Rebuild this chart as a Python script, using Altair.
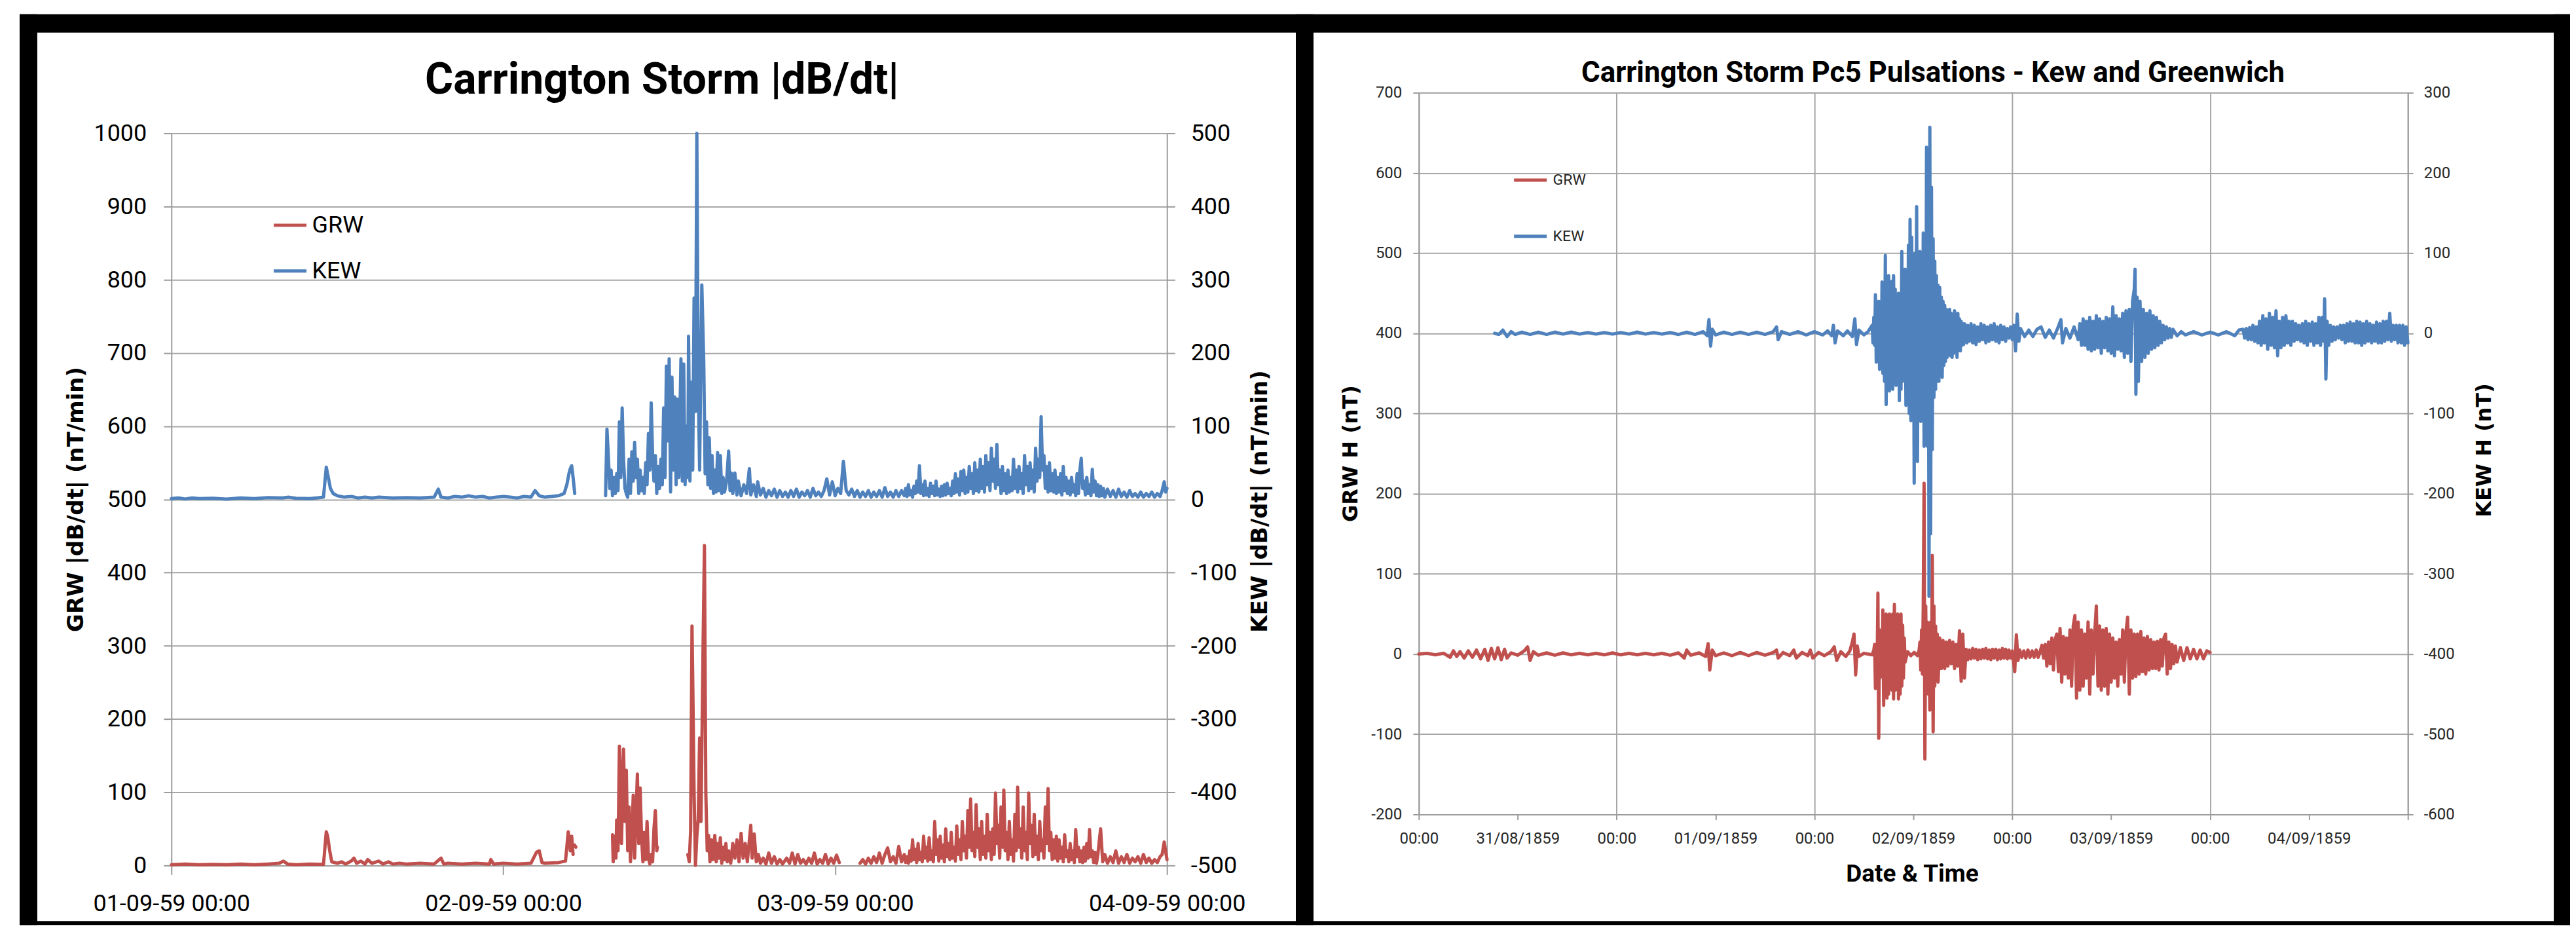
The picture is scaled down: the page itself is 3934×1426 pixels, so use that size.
import altair as alt
import pandas as pd

RED = "#C0504D"
BLUE = "#4F81BD"
GRID = "#A6A6A6"
AXISC = "#9C9C9C"
SANS = "Roboto, Liberation Sans, Arial, sans-serif"
WIDEB = "DejaVu Sans, Verdana, sans-serif"
SERIES = ["GRW", "KEW"]


def run(t0, dt, values):
    """Regularly sampled readings: values typed from the picture, one per sample time."""
    return [(round(t0 + i * dt, 3), v) for i, v in enumerate(values)]


# ---------------- Left panel: |dB/dt| (hours after 01-09-59 00:00) ----------------
L_TICKS = [0, 24, 48, 72]
L_TICK_LABELS = ["01-09-59 00:00", "02-09-59 00:00", "03-09-59 00:00", "04-09-59 00:00"]
L_GRW_TICKS = [0, 100, 200, 300, 400, 500, 600, 700, 800, 900, 1000]
L_KEW_TICKS = [-500, -400, -300, -200, -100, 0, 100, 200, 300, 400, 500]

GRW_L_DAY1 = [(0,1),(1,2),(2,1),(3,1.5),(4,1),(5,2),(6,1),(7,2),(7.8,3),(8.1,6),(8.4,2),(9,1),(10,2),(11,1.5),
    (11.2,46),(11.3,40),(11.45,20),(11.6,5),(12,3),(12.3,5),(12.6,2),(13.0,6),(13.2,10),(13.4,3),(13.7,6),(14,2),
    (14.2,8),(14.5,3),(15,6),(15.3,2),(15.7,5),(16,2),(16.5,3),(17,2),(18,3),(19,2),(19.5,10),(19.7,2),(20,3),
    (21,2),(22,3),(23,2),(23.1,8),(23.3,2),(24,3),(25,2),(26,3),(26.4,18),(26.6,20),(26.8,4),(27,3),(28,4),
    (28.5,6),(28.7,46),(28.85,20),(28.95,40),(29.05,15)]
GRW_L_DOT = [(29.15,28),(29.25,25)]
GRW_L_BURST1 = [(31.9,42),(31.95,5),(32.05,40),(32.15,10),(32.2,62),(32.3,20),(32.4,163),(32.5,113),(32.55,30),
    (32.7,159),(32.8,60),(32.9,130),(33.0,20),(33.1,80),(33.2,5),(33.3,40),(33.4,96),(33.5,10),(33.7,125),(33.8,30),
    (33.9,106),(34.0,40),(34.1,5),(34.2,45),(34.3,8),(34.4,60),(34.5,10),(34.6,2),(34.7,15),(34.8,5),(34.9,50),
    (35.0,75),(35.1,20),(35.15,25)]
GRW_L_BURST2 = [(37.35,15),(37.45,5),(37.55,47),(37.65,327),(37.7,259),(37.8,102),(37.9,0),(38.0,40),(38.1,63),
    (38.2,174),(38.3,60),(38.45,300),(38.55,437),(38.65,99),(38.75,20),(38.85,41),(38.95,5),(39.05,35),(39.15,8),
    (39.3,41),(39.4,5),(39.5,30),(39.6,10),(39.7,38),(39.8,3),(39.9,25),(40.0,8),(40.1,30),(40.2,5),(40.3,20),
    (40.45,3),(40.6,30),(40.75,10),(40.9,35),(41.05,5),(41.2,44),(41.35,10),(41.5,30),(41.65,5),(41.8,35),(41.9,55),
    (42.0,10),(42.15,43),(42.3,5),(42.45,15),(42.6,3),(42.8,10),(43.0,2),(43.2,17),(43.4,3),(43.6,12),(43.8,2),
    (44.0,8),(44.2,2),(44.5,10),(44.7,3),(44.9,17),(45.1,2),(45.3,15),(45.5,3),(45.7,8),(45.9,2),(46.1,10),(46.3,3),
    (46.5,17),(46.7,2),(46.9,8),(47.1,3),(47.3,15),(47.5,2),(47.7,10),(47.9,3),(48.1,14),(48.3,4)]
GRW_L_DAY3_A = [3,8,2,10,3,12,4,17,3,15,24,5,12,3,26,5]                      # 49.8 .. 52.8 every 0.2 h
GRW_L_DAY3_B = [15,4,12,3,20,6,35,8,22,4,30,8,18,5,40,10,25,6,38,8,20,5,60,15,35,6,40,10,28,5,
    50,12,30,8,45,10,25,6,54,15,35,8,60,20,40,10,75,25,91,20,45,12,83,25,50,8,60,15,40,10,
    70,20,45,8,50,15,99,30,55,10,80,25,103,20,45,8,60,15,35,6,70,20,107,25,50,10,80,20,45,8,
    99,30,55,12,70,15,40,8,60,20,35,10,80,30,105,20,45,8,35,10,40,6,35,10,25,5,42,12,20,5,
    30,8,20,4,49,12,25,5,20,4,25,6,30,10,49,12,20,4,18,3,15]                  # 53.0 .. 67.0 every 0.1 h
GRW_L_DAY3_C = [(67.2,50),(67.35,5)]
GRW_L_DAY3_D = [15,3,12,4,20,3,12,4,15,3,10,5,12,3,15,4,10,3,8,4,12]           # 67.5 .. 71.5 every 0.2 h
GRW_L_DAY3_E = [(71.65,15),(71.8,32),(71.9,20),(72.0,8)]

KEW_L_DAY1 = [(0,1),(0.5,2),(1,0.5),(1.5,2),(2,1),(3,1.5),(4,0.5),(5,2),(6,1),(7,2.5),(8,2),(8.5,3),(9,1.5),(10,1),
    (10.5,2),(11,3),(11.2,44),(11.35,30),(11.5,15),(11.7,8),(12,5),(12.5,3),(13,4),(13.5,2),(14,3),(14.5,2),(15,3),
    (16,2),(17,2.5),(18,2),(19,3),(19.3,14),(19.5,3),(20,2),(20.5,4),(21,3),(21.5,5),(22,3),(22.5,4),(23,2),(23.5,3),
    (24,4),(24.5,3),(25,2),(25.5,4),(26,3),(26.3,12),(26.6,5),(27,3),(27.5,4),(28,5),(28.4,8),(28.6,20),(28.75,35),
    (28.85,42),(28.95,46),(29.05,30),(29.17,8)]
KEW_L_STORM = [(31.4,5),(31.5,96),(31.6,60),(31.7,15),(31.8,40),(31.9,5),(32.0,30),(32.1,8),(32.2,35),(32.3,12),
    (32.4,106),(32.5,30),(32.6,125),(32.7,55),(32.8,15),(32.9,8),(33.0,3),(33.1,55),(33.2,8),(33.3,65),(33.4,25),
    (33.5,78),(33.6,30),(33.7,55),(33.8,8),(33.9,40),(34.0,12),(34.1,30),(34.2,8),(34.3,50),(34.4,20),(34.5,90),
    (34.6,40),(34.7,132),(34.8,60),(34.9,25),(35.0,60),(35.1,8),(35.2,45),(35.3,15),(35.4,55),(35.5,20),(35.6,125),
    (35.7,30),(35.8,182),(35.9,80),(36.0,192),(36.1,10),(36.2,167),(36.3,40),(36.4,140),(36.5,20),(36.6,137),
    (36.7,30),(36.85,192),(36.95,25),(37.05,185),(37.15,20),(37.25,100),(37.35,30),(37.4,223),(37.5,25),(37.6,160),
    (37.7,40),(37.8,275),(37.9,120),(38.0,500),(38.1,160),(38.2,40),(38.36,293),(38.5,188),(38.6,35),(38.7,106),
    (38.8,20),(38.9,84),(39.0,15),(39.1,60),(39.2,8),(39.3,40),(39.4,10),(39.5,64),(39.6,12),(39.7,60),(39.8,8),
    (39.9,30),(40.0,10),(40.15,25),(40.3,66),(40.4,12),(40.5,36),(40.6,8),(40.75,36),(40.9,6),(41.0,25),(41.2,5),
    (41.4,20),(41.6,8),(41.8,42),(41.9,6),(42.1,20),(42.3,4)]
KEW_L_LATE_A = [24,6,15,3,12,5,14,3,12,4,10,3,12,4,14,3,10,5,12,3,15,5,10,4,12,28,6,24,5,15,8,52,12,6,14,4,
    12,3,10,4,12,3,10,4,12,3,16,4,10,3,12,4,12,5]                             # 42.4 .. 53.0 every 0.2 h
KEW_L_LATE_B = [15,4,20,6,12,3,18,8,25,10,46,8,20,5,25,6,15,4,22,8,18,5,25,6,14,4,18,5,20,6,22,8,15,5,
    25,8,35,10,28,6,38,12,40,8,30,10,45,15,35,8,50,12,40,10,55,15,45,10,60,20,50,12,70,25,55,15,
    75,20,40,8,45,12,35,8,40,10,30,12,55,15,40,10,45,15,35,8,60,20,45,12,50,15,40,10,70,25,55,30,
    113,40,60,15,45,10,50,12,35,10,40,8,30,10,35,6,45,12,30,8,25,6,30,10,20,5,35,8,40,56,15,25,
    6,30,8,20,5,41,10,25,5,20,4,18,5,15,3]                                    # 53.1 .. 67.5 every 0.1 h
KEW_L_LATE_C = [14,4,12,3,14,4,10,3,12,4,8,3,10,3,8,4,10,3,8,4]                # 67.7 .. 71.5 every 0.2 h
KEW_L_LATE_D = [(71.65,12),(71.8,24),(71.9,10),(72.0,15)]

# ---------------- Right panel: Pc5 pulsations (hours on the date axis) ----------------
R_TICKS = [0, 12, 24, 36, 48, 60, 72, 84, 96, 108, 120]
R_TICK_LABELS = ["00:00", "31/08/1859", "00:00", "01/09/1859", "00:00", "02/09/1859",
                 "00:00", "03/09/1859", "00:00", "04/09/1859", ""]
R_GRW_TICKS = [-200, -100, 0, 100, 200, 300, 400, 500, 600, 700]
R_KEW_TICKS = [-600, -500, -400, -300, -200, -100, 0, 100, 200, 300]

GRW_R_EARLY = [(0,0),(1,1),(2,-1),(3,1),(3.8,-4),(4.2,4),(4.6,-3),(5,3),(5.5,-5),(6,4),(6.5,-4),(7,5),(7.5,-6),(8,6),
    (8.4,-8),(8.8,7),(9.2,-6),(9.6,8),(10,-7),(10.4,6),(10.7,-5),(11.2,1.5),(12,-1.5),(12.8,4),(13.2,9),(13.5,-8),
    (13.9,3),(14.5,-1.5),(15.5,1.5),(16.5,-1.5),(17.5,1.5),(18.5,-1),(19.5,1),(20.5,-1),(21.5,1),(22.5,-1),(23.5,1.5),
    (24.5,-1),(25.5,1),(26.5,-1),(27.5,1),(28.5,-1),(29.5,1),(30.5,-1.5),(31.5,1.5),(32.2,-5),(32.5,5),(33,-1.5),
    (34,1.5),(34.8,-3),(35.1,13),(35.3,-20),(35.6,5),(36,-2),(37,1.5),(38,-2),(39,2),(40,-2),(41,2),(42,-1.5),(43,2),
    (43.4,5),(43.6,-5),(44.2,2),(45,-2),(45.5,5),(45.8,-5),(46.5,2),(47.2,-2),(47.5,5),(47.8,-5),(48.5,2),(49.2,-2),
    (50,3),(50.4,9),(50.7,-8),(51.2,3),(51.8,-3),(52.3,4),(52.6,15),(52.8,25),(53.0,-26),(53.2,10),(53.4,-3),(54,1),
    (55.0,-1)]
GRW_R_STORM_A = [5,12,-43,10,-20,76,-105,30,-29,25,-25,55,-64,45,-50,50,-55,40,-50,50,-40,45,-45,50,-56,62,
    -45,45,-40,50,-56,40,-50,50,-40,36,-30,20,-10]                            # 55.2 .. 59.0 every 0.1 h
GRW_R_CALM = [(59.3,3),(59.7,-2),(60.1,2),(60.5,-2)]
GRW_R_STORM_B = [5,15,-20,30,-25,60,213,-131,60,-40,40,-50,25,-70,40,-50,123,-97,60,-40,35,-30,25,-35]
                                                                              # 60.7 .. 63.0 every 0.1 h
GRW_R_STORM_C = [20,-18,17,-18,15,-15,17,-12,15,-18,12,-15,29,-34,25,-30]      # 63.2 .. 66.2 every 0.2 h
GRW_R_MID_A = [6,-7,5,-6,7,-5,6,-7,5,-6,6,-5,7,-6,5,-7,6,-5,6,-7,5,-6,7,-5,6,-6,5,-5,4]
                                                                              # 66.4 .. 72.0 every 0.2 h
GRW_R_MID_SPIKE = [(72.3,-22),(72.5,24),(72.7,-8)]
GRW_R_MID_B = [5,-4,4,-5,5,-4,4,-4,5,-4,4]                                    # 72.9 .. 75.4 every 0.25 h
GRW_R_LATE = [11,-5,12,-15,15,-12,20,-20,18,25,-22,32,-35,22,-25,20,-30,30,-40,35,48,-55,40,-45,30,-40,25,-30,
    40,-50,30,-25,25,60,-40,35,-45,30,-40,32,-50,25,-35,20,-30,15,-40,18,-25,30,-35,28,46,-50,30,-30,25,
    -28,25,-25,28,-22,20,-25,22,-20,18,-18,15,-18,16,-20,18,-15,20,25,-25,15,-18,12,-12,10,-10]
                                                                              # 75.6 .. 92.0 every 0.2 h
GRW_R_END = [(92.4,8),(92.8,-8),(93.2,8),(93.6,-6),(94.0,6),(94.4,-6),(94.8,5),(95.2,-6),(95.6,4),(96.0,2)]

KEW_R_EARLY = [(9.2,0),(9.7,-1.5),(10.2,4),(10.7,-4),(11.2,2),(11.7,-1.5),(12.5,1.5),(13.5,-1.5),(14.5,1.5),
    (15.5,-1.5),(16.5,1.5),(17.5,-1),(18.5,1.5),(19.5,-1),(20.5,1),(21.5,-1),(22.5,1),(23.5,-1),(24.5,1),(25.5,-1),
    (26.5,1.5),(27.5,-1),(28.5,1),(29.5,-1),(30.5,1),(31.5,-1.5),(32.5,1.5),(33.5,-1.5),(34.5,2),(35.0,-3),(35.2,17),
    (35.4,-16),(35.6,5),(36,-2),(37,1.5),(38,-1.5),(39,1.5),(40,-1.5),(41,1.5),(42,-1.5),(43,2),(43.4,8),(43.6,-8),
    (44,2),(45,-1.5),(46,2),(47,-2),(48,2),(49,-2),(49.6,3),(50.1,-3),(50.3,10),(50.5,-12),(50.8,3),(51.5,-3),(52,3),
    (52.6,-4),(52.9,18),(53.1,-14),(53.4,4),(54,-2),(54.5,2)]
KEW_R_STORM = [10,-12,20,-15,48,-36,30,-28,40,-45,35,-40,64,-50,45,-60,97,-89,60,-55,72,-72,50,-60,65,-70,
    72,-50,55,-65,40,-60,50,-84,45,-70,102,-60,70,-50,80,-90,60,-80,110,-100,142,-109,120,-95,90,-187,
    100,-120,158,-160,90,-100,102,-110,80,-90,125,-141,100,-120,232,-141,210,-328,257,-250,182,-145,118,
    -80,90,-70,72,-60,60,-60,57,-50,45,-55,40,-40,35,-35,30,-30,28,-25,30,-28,25,-30,22,-25,28,-22,20,
    -30,25,-20,18,-22,15,-15,12,-14,12,-10,10,-12]                            # 55.0 .. 66.5 every 0.1 h
KEW_R_MID = [10,-10,12,-12,10,-14,8,-10,12,-8,10,-12,8,-10,10,-8,12,-10,8,-12,10,-8,8,-10,6,-6,8,-8,10,-22,
    24,-10,6]                                                                 # 66.6 .. 73.0 every 0.2 h
KEW_R_QUIET = [(73.5,-4),(74,4),(74.5,-4),(75,5),(75.5,8),(76,-5),(76.5,4),(77,-6),(77.5,6),(77.9,17),(78.1,-12),
    (78.5,6),(79,-6),(79.5,8),(80,-8)]
KEW_R_ACTIVE = [12,-15,18,-15,15,-20,20,-22,15,-20,22,-18,18,-25,15,-18,20,-22,18,-25,33,-28,22,-20,18,-22,25,
    -30,28,-25,30,-35,40]                                                     # 80.2 .. 86.6 every 0.2 h
KEW_R_SPIKE = [(86.8,55),(86.9,80),(87.0,-76),(87.15,45),(87.3,-60)]
KEW_R_DECAY = [40,-35,30,-30,25,-25,28,-20,22,-18,20,-15,15,-12,10,-8,8,-6,6,-5,5]  # 87.5 .. 91.5 every 0.2 h
KEW_R_CALM = [(92,-3),(92.5,2),(93,-2),(94,2),(95,-2),(96,1.5),(97,-2),(98,2),(99,-3),(99.5,4)]
KEW_R_DAY4_A = [5,-6,6,-8,7,-8,10,-10,8,-12,15,-15,22,-12,18,-20,25,-15,20,-18,28,-28,15,-18,20,-15,22,-12,
    15,-15,15,-10,12,-8,10,-10,12,-12,15,-15,12,-10,14,-15,12,-12,20,-15]     # 100.0 .. 109.4 every 0.2 h
KEW_R_DAY4_SPIKE = [(109.6,20),(109.8,-10),(109.9,43),(110.05,-57),(110.2,15)]
KEW_R_DAY4_B = [-15,10,-10,8,-8,8,-6,10,-8,10,-12,12,-10,14,-10,12,-12,15,-12,14,-15,12,-12,15,-10,12,-12,10,
    -10,14,-12,12,-12,15,-10,15,-8,25,-10,10,-8,10,-12,10,-12,10,-15,8,-12]   # 110.4 .. 120.0 every 0.2 h


def to_frame(name, segments):
    rows = []
    for k, seg in enumerate(segments):
        for h, v in seg:
            rows.append({"h": h, "v": v, "seg": k, "series": name})
    return pd.DataFrame(rows)


def label_expr(ticks, labels):
    parts = [f"datum.value == {t} ? '{l}' : " for t, l in zip(ticks, labels)]
    return "".join(parts) + "''"


grw_l_df = to_frame("GRW", [
    GRW_L_DAY1, GRW_L_DOT, GRW_L_BURST1, GRW_L_BURST2,
    run(49.8, 0.2, GRW_L_DAY3_A) + run(53.0, 0.1, GRW_L_DAY3_B) + GRW_L_DAY3_C
    + run(67.5, 0.2, GRW_L_DAY3_D) + GRW_L_DAY3_E])
kew_l_df = to_frame("KEW", [
    KEW_L_DAY1,
    KEW_L_STORM + run(42.4, 0.2, KEW_L_LATE_A) + run(53.1, 0.1, KEW_L_LATE_B)
    + run(67.7, 0.2, KEW_L_LATE_C) + KEW_L_LATE_D])
grw_r_df = to_frame("GRW", [
    GRW_R_EARLY + run(55.2, 0.1, GRW_R_STORM_A) + GRW_R_CALM + run(60.7, 0.1, GRW_R_STORM_B)
    + run(63.2, 0.2, GRW_R_STORM_C) + run(66.4, 0.2, GRW_R_MID_A) + GRW_R_MID_SPIKE
    + run(72.9, 0.25, GRW_R_MID_B) + run(75.6, 0.2, GRW_R_LATE) + GRW_R_END])
kew_r_df = to_frame("KEW", [
    KEW_R_EARLY + run(55.0, 0.1, KEW_R_STORM) + run(66.6, 0.2, KEW_R_MID) + KEW_R_QUIET
    + run(80.2, 0.2, KEW_R_ACTIVE) + KEW_R_SPIKE + run(87.5, 0.2, KEW_R_DECAY) + KEW_R_CALM
    + run(100.0, 0.2, KEW_R_DAY4_A) + KEW_R_DAY4_SPIKE + run(110.4, 0.2, KEW_R_DAY4_B)])
dummy = pd.DataFrame({"k": [0]})

LINE = dict(strokeWidth=5.0, strokeJoin="round", strokeCap="round")

# ---------- left panel ----------
W1, H1, TOP1 = 1522, 1181, 62
x_left = alt.X("h:Q", scale=alt.Scale(domain=[0, 72], nice=False, zero=False),
               axis=alt.Axis(values=L_TICKS, labelExpr=label_expr(L_TICKS, L_TICK_LABELS), title=None,
                             grid=False, domainColor=AXISC, domainWidth=2, tickColor=AXISC, tickWidth=2,
                             tickSize=14, labelFont=SANS, labelFontSize=36, labelColor="black",
                             labelPadding=27, labelOverlap=False, labelFlush=False, labelLimit=600))
legend_l = alt.Legend(orient="none", legendX=154, legendY=175, title=None, direction="vertical",
                      symbolType="stroke", symbolSize=2500, symbolStrokeWidth=5, labelFont=SANS,
                      labelFontSize=36, labelColor="black", labelOffset=6, rowPadding=24, padding=0)
color_l = alt.Color("series:N", scale=alt.Scale(domain=SERIES, range=[RED, BLUE]), legend=legend_l)

grw_l = alt.Chart(grw_l_df).mark_line(**LINE).encode(
    x=x_left,
    y=alt.Y("v:Q", scale=alt.Scale(domain=[0, 1000], range=[H1, TOP1], nice=False, zero=False),
            axis=alt.Axis(orient="left", values=L_GRW_TICKS, labelExpr="toString(datum.value)",
                          grid=True, gridColor=GRID, gridWidth=2, domainColor=AXISC, domainWidth=2,
                          tickColor=AXISC, tickWidth=2, tickSize=12, labelFont=SANS, labelFontSize=36,
                          labelColor="black", labelPadding=26, title="GRW |dB/dt| (nT/min)",
                          titleFont=WIDEB, titleFontWeight="bold", titleFontSize=34, titleColor="black",
                          titleAngle=270, titleAlign="center", titleBaseline="middle",
                          titleX=-145, titleY=621)),
    color=color_l, detail="seg:N")

kew_l = alt.Chart(kew_l_df).mark_line(**LINE).encode(
    x=x_left,
    y=alt.Y("v:Q", scale=alt.Scale(domain=[-500, 500], range=[H1, TOP1], nice=False, zero=False),
            axis=alt.Axis(orient="right", values=L_KEW_TICKS, labelExpr="toString(datum.value)",
                          grid=False, domainColor=AXISC, domainWidth=2, tickColor=AXISC, tickWidth=2,
                          tickSize=12, labelFont=SANS, labelFontSize=36, labelColor="black",
                          labelPadding=24, title="KEW |dB/dt| (nT/min)", titleFont=WIDEB,
                          titleFontWeight="bold", titleFontSize=34, titleColor="black", titleAngle=270,
                          titleAlign="center", titleBaseline="middle", titleX=142, titleY=624)),
    color=color_l, detail="seg:N")

title_l = alt.Chart(dummy).mark_text(text="Carrington Storm |dB/dt|", font=SANS, fontWeight="bold",
                                     fontSize=66, align="center", baseline="alphabetic",
                                     color="black").encode(x=alt.value(750), y=alt.value(1))


def strip(x1, x2, y1, y2):
    return alt.Chart(dummy).mark_rect(color="black").encode(
        x=alt.value(x1), x2=alt.value(x2), y=alt.value(y1), y2=alt.value(y2))


strips = [strip(-232, 3667, -120, -92), strip(-232, -205, -120, 1272), strip(1719, 1746, -120, 1272),
          strip(3642, 3667, -120, 1272), strip(-232, 3667, 1266, 1272)]

left = alt.layer(*strips, title_l, grw_l, kew_l).resolve_scale(y="independent").properties(
    width=W1, height=H1)

# ---------- right panel ----------
W2, H2 = 1512, 1103
x_right = alt.X("h:Q", scale=alt.Scale(domain=[0, 120], nice=False, zero=False),
                axis=alt.Axis(values=R_TICKS, labelExpr=label_expr(R_TICKS, R_TICK_LABELS),
                              grid=True, gridColor=GRID, gridWidth=2,
                              gridOpacity={"condition": {"test": "datum.value % 24 === 0", "value": 1},
                                           "value": 0},
                              domainColor=AXISC, domainWidth=2, tickColor=AXISC, tickWidth=2, tickSize=8,
                              labelFont=SANS, labelFontSize=24, labelColor="#262626", labelPadding=17,
                              labelOverlap=False, labelFlush=False, labelLimit=600, title="Date & Time",
                              titleFont=SANS, titleFontWeight="bold", titleFontSize=37, titleColor="black",
                              titleBaseline="middle", titleAlign="center", titleX=754, titleY=91))
legend_r = alt.Legend(orient="none", legendX=143, legendY=106, title=None, direction="vertical",
                      symbolType="stroke", symbolSize=2500, symbolStrokeWidth=5, labelFont=SANS,
                      labelFontSize=23, labelColor="#262626", labelOffset=7, rowPadding=46, padding=0)
color_r = alt.Color("series:N", scale=alt.Scale(domain=SERIES, range=[RED, BLUE]), legend=legend_r)

grw_r = alt.Chart(grw_r_df).mark_line(**LINE).encode(
    x=x_right,
    y=alt.Y("v:Q", scale=alt.Scale(domain=[-200, 700], nice=False, zero=False),
            axis=alt.Axis(orient="left", values=R_GRW_TICKS, labelExpr="toString(datum.value)",
                          grid=True, gridColor=GRID, gridWidth=2, domainColor=AXISC, domainWidth=2,
                          tickColor=AXISC, tickWidth=2, tickSize=9, labelFont=SANS, labelFontSize=24,
                          labelColor="#262626", labelPadding=17, title="GRW H (nT)", titleFont=WIDEB,
                          titleFontWeight="bold", titleFontSize=32, titleColor="black", titleAngle=270,
                          titleAlign="center", titleBaseline="middle", titleX=-104, titleY=551)),
    color=color_r, detail="seg:N")

kew_r = alt.Chart(kew_r_df).mark_line(**LINE).encode(
    x=x_right,
    y=alt.Y("v:Q", scale=alt.Scale(domain=[-600, 300], nice=False, zero=False),
            axis=alt.Axis(orient="right", values=R_KEW_TICKS, labelExpr="toString(datum.value)",
                          grid=False, domainColor=AXISC, domainWidth=2, tickColor=AXISC, tickWidth=2,
                          tickSize=8, labelFont=SANS, labelFontSize=24, labelColor="#262626",
                          labelPadding=16, title="KEW H (nT)", titleFont=WIDEB, titleFontWeight="bold",
                          titleFontSize=32, titleColor="black", titleAngle=270, titleAlign="center",
                          titleBaseline="middle", titleX=116, titleY=546)),
    color=color_r, detail="seg:N")

title_r = alt.Chart(dummy).mark_text(text="Carrington Storm Pc5 Pulsations - Kew and Greenwich", font=SANS,
                                     fontWeight="bold", fontSize=44, align="center", baseline="alphabetic",
                                     color="black").encode(x=alt.value(786), y=alt.value(-17))

right = alt.layer(title_r, grw_r, kew_r).resolve_scale(y="independent").properties(width=W2, height=H2)

chart = alt.hconcat(left, right, spacing=385, bounds="flush").resolve_scale(
    color="independent").resolve_legend(color="independent").properties(
    background="white", padding={"left": 21, "top": 12, "right": 0, "bottom": 0}).configure_view(
    stroke="transparent")

chart.save("out.html", embed_options={"renderer": "svg", "actions": False})
